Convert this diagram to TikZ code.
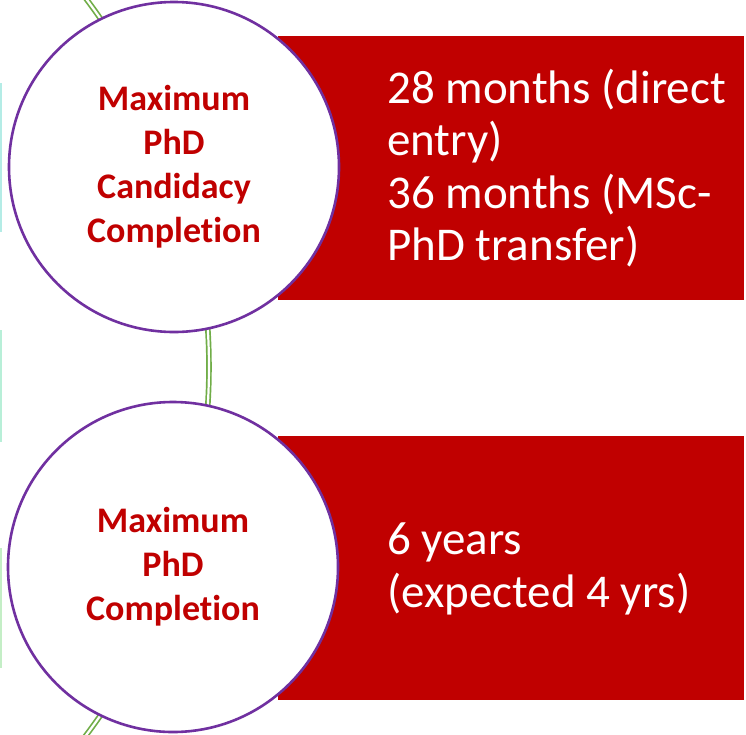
\documentclass[tikz,border=0pt]{standalone}
\usepackage{fontspec}
\setmainfont{Carlito}[Ligatures=NoCommon]
\definecolor{darkred}{HTML}{C00000}
\definecolor{ringpurple}{HTML}{7030A0}
\definecolor{linkgreen}{HTML}{70AD47}
\definecolor{edgecyan}{HTML}{B4ECE6}
\definecolor{edgemint}{HTML}{B8EFD8}
\definecolor{edgegreen}{HTML}{C4EEC6}

\tikzset{
  stage/.style={circle, draw=ringpurple, line width=2.6pt, fill=white,
    minimum size=330pt, inner sep=0pt, align=center, text=darkred,
    font=\fontsize{36}{44}\selectfont\bfseries},
  redbox/.style={rectangle, fill=darkred, inner sep=0pt, anchor=north west},
  boxtext/.style={anchor=west, align=left, text=white, inner sep=0pt,
    font=\fontsize{47}{52.5}\selectfont},
  link/.style={draw=linkgreen, line width=1.7pt, double=white, double distance=2.2pt}
}

\begin{document}
\begin{tikzpicture}[x=1pt,y=-1pt]
\useasboundingbox (0,0) rectangle (746,734);
\clip (0,0) rectangle (746,734);
\fill [white] (0,0) rectangle (746,734);

% cut-off shapes at the left edge
\fill [edgecyan] (0,83) rectangle (1.5,232);
\fill [edgemint] (0,330) rectangle (1.5,442);
\fill [edgegreen] (0,548) rectangle (1.5,668);

% red boxes
\node [redbox, minimum width=466pt, minimum height=264pt] (r1) at (278,36) {};
\node [redbox, minimum width=466pt, minimum height=264pt] (r2) at (278,436) {};

% green link behind the circles
\coordinate (hub) at (-404,367);
\draw [link] (hub) ++(-42:613) arc (-42:42:613);

% stages
\node [stage] (c1) at (174,167) {Maximum\\PhD\\Candidacy\\Completion};
\node [stage] (c2) at (173,567) {Maximum\\PhD\\Completion};

% box texts
\node [boxtext] (t1) at (387,168) {28 months (direct\\entry)\\36 months (MSc-\\PhD transfer)};
\node [boxtext] (t2) at (387,569) {6 years\\(expected 4 yrs)};
\end{tikzpicture}
\end{document}
